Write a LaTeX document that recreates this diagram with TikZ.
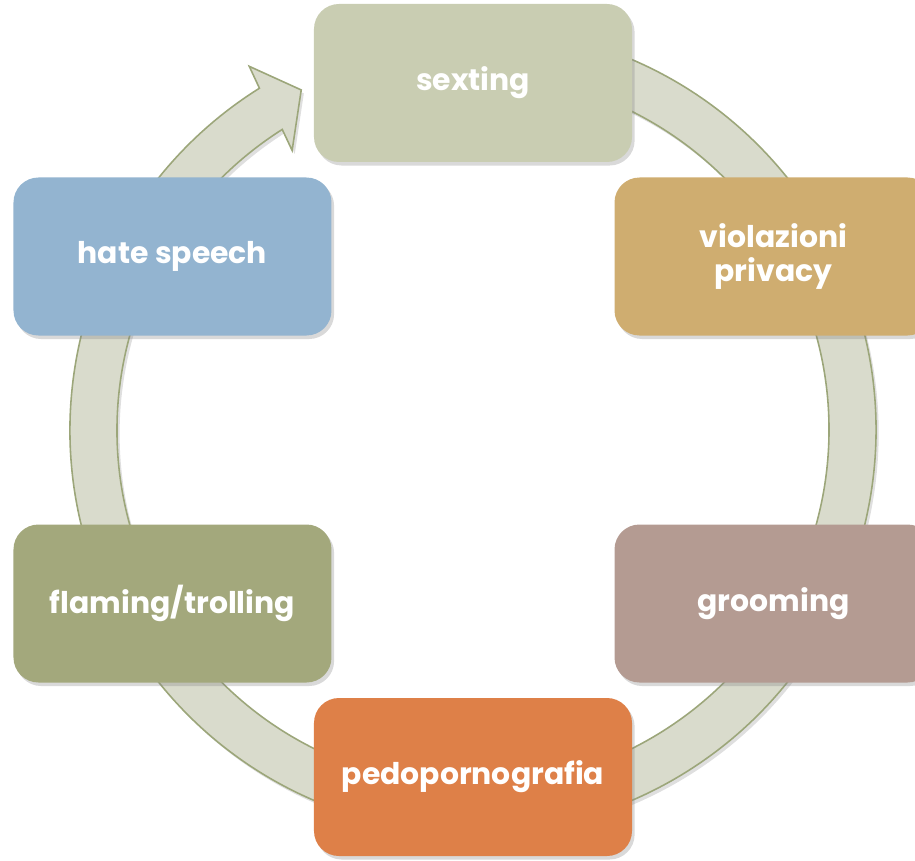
\documentclass[tikz,border=0pt]{standalone}
\usepackage{fontspec}
\newfontfamily\boxfont{Poppins}
\usepackage{tikz}
\usetikzlibrary{positioning,shadows}

\definecolor{ringfill}{RGB}{217,219,204}
\definecolor{ringline}{RGB}{156,166,122}
\definecolor{sextcol}{RGB}{201,205,178}
\definecolor{privcol}{RGB}{207,173,112}
\definecolor{groomcol}{RGB}{180,155,146}
\definecolor{pedocol}{RGB}{222,128,72}
\definecolor{flamecol}{RGB}{163,168,124}
\definecolor{hatecol}{RGB}{147,180,208}

\begin{document}
\begin{tikzpicture}[
scale=1,
font=\boxfont\bfseries\fontsize{17}{19}\selectfont,
topic/.style={rounded corners=0.5cm, minimum width=6.36cm, minimum height=3.16cm,
  text=white, align=center,
  drop shadow={opacity=0.3, shadow xshift=1.5pt, shadow yshift=-2pt}},
ring/.style={fill=ringfill, draw=ringline, line width=0.9pt, line join=miter,
  drop shadow={opacity=0.25, shadow xshift=1.5pt, shadow yshift=-2pt}}
]
    \useasboundingbox (-9.46,-8.6) rectangle (8.84,8.6);

    % Draw ring arrow
    \draw[ring] (80:8.06) arc[start angle=80, end angle=-238, radius=8.06]
        -- (-238.4:8.54) -- (-243.2:7.62) -- (-237.1:6.66)
        -- (-237.6:7.12) arc[start angle=-237.6, end angle=80, radius=7.12]
        -- cycle;

    % Draw topics
    \node[topic, fill=sextcol] (sexting) at (90:6.94) {sexting};
    \node[topic, fill=privcol] (privacy) at (30:6.94) {violazioni\\privacy};
    \node[topic, fill=groomcol] (grooming) at (-30:6.94) {grooming};
    \node[topic, fill=pedocol] (pedo) at (-90:6.94) {pedopornografia};
    \node[topic, fill=flamecol] (flaming) at (-150:6.94) {flaming/trolling};
    \node[topic, fill=hatecol] (hate) at (150:6.94) {hate speech};

\end{tikzpicture}
\end{document}
